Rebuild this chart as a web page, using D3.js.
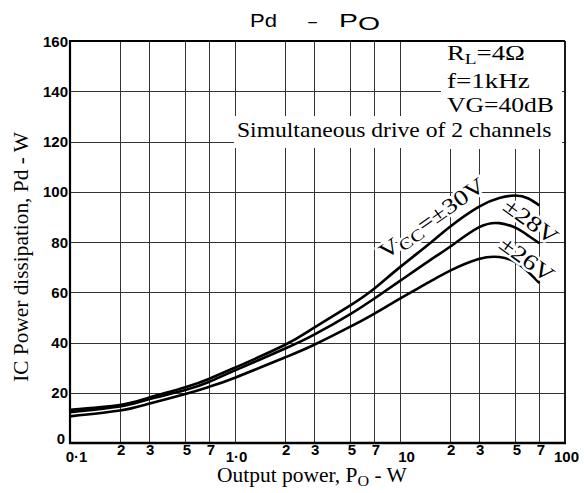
<!DOCTYPE html>
<html>
<head>
<meta charset="utf-8">
<script src="https://cdn.jsdelivr.net/npm/d3@7/dist/d3.min.js"></script>
<style>
  html, body { margin: 0; padding: 0; background: #fff; }
  svg { display: block; }
</style>
</head>
<body>
<svg id="chart" width="584" height="493"></svg>
<script>
// ---------------- data ----------------
const outputPower = [0.1, 0.2, 0.3, 0.5, 0.7, 1, 2, 3, 5, 7, 10, 15, 20, 30, 40, 50, 60, 70];
const pdVcc30 = [13.2, 15.1, 18.0, 22.2, 25.6, 30.0, 39.0, 45.8, 54.8, 61.5, 70.0, 79.2, 86.0, 94.0, 97.5, 98.5, 97.3, 94.5];
const pdVcc28 = [12.3, 14.5, 17.4, 21.1, 24.4, 28.9, 37.5, 43.0, 51.3, 57.5, 64.5, 72.5, 78.0, 85.8, 87.5, 85.7, 82.5, 79.5];
const pdVcc26 = [10.6, 12.9, 15.6, 19.5, 22.4, 26.0, 34.0, 39.0, 46.3, 51.5, 57.5, 64.0, 68.5, 73.2, 74.0, 72.0, 68.0, 63.6];
const seriesNames = ["\u00B130V", "\u00B128V", "\u00B126V"];

const yTickValues = [0, 20, 40, 60, 80, 100, 120, 140, 160];
const yTickLabels = ["0", "20", "40", "60", "80", "100", "120", "140", "160"];
const xTickValues = [0.1, 0.2, 0.3, 0.5, 0.7, 1, 2, 3, 5, 7, 10, 20, 30, 50, 70, 100];
const xTickLabels = ["0\u00B71", "2", "3", "5", "7", "1\u00B70", "2", "3", "5", "7", "10", "2", "3", "5", "7", "100"];
const xGridValues = [0.2, 0.3, 0.5, 0.7, 1, 2, 3, 5, 7, 10, 20, 30, 50, 70];
const yGridValues = [20, 40, 60, 80, 100, 120, 140];

const titleText = ["Pd", "\u2013", "P", "O"];
const conditions = ["R", "L", "=4\u03A9", "f=1kHz", "VG=40dB", "Simultaneous drive of 2 channels"];
const yAxisTitle = "IC Power dissipation, Pd - W";
const xAxisTitle = ["Output power, ", "P", "O", " - W"];

// ---------------- layout ----------------
const L = 70, R = 565, T = 41, B = 443;
const svg = d3.select("#chart");
const x = d3.scaleLog().domain([0.1, 100]).range([L, R]);
const y = d3.scaleLinear().domain([0, 160]).range([B, T]);

const SERIF = "'Liberation Serif', 'Times New Roman', serif";
const SANS = "'Liberation Sans', Arial, sans-serif";

// grid
const gx = svg.append("g").attr("transform", `translate(0,${B})`)
  .call(d3.axisBottom(x).tickValues(xGridValues).tickSize(-(B - T)).tickFormat(""));
gx.select(".domain").remove();
gx.selectAll(".tick line")
  .attr("stroke", "#333")
  .attr("stroke-width", d => (d === 1 || d === 10) ? 1.6 : 1)
  .attr("shape-rendering", "crispEdges");

const gy = svg.append("g").attr("transform", `translate(${L},0)`)
  .call(d3.axisLeft(y).tickValues(yGridValues).tickSize(-(R - L)).tickFormat(""));
gy.select(".domain").remove();
gy.selectAll(".tick line").attr("stroke", "#333").attr("stroke-width", 1)
  .attr("shape-rendering", "crispEdges");

// white boxes behind the condition text
svg.append("rect").attr("x", 441).attr("y", T + 1).attr("width", 121).attr("height", 107).attr("fill", "#fff");
svg.append("rect").attr("x", 234).attr("y", 116).attr("width", 328).attr("height", 32).attr("fill", "#fff");

// frame
svg.append("line").attr("x1", L).attr("x2", R).attr("y1", T).attr("y2", T).attr("stroke", "#000").attr("stroke-width", 1.8);
svg.append("line").attr("x1", R).attr("x2", R).attr("y1", T).attr("y2", B).attr("stroke", "#000").attr("stroke-width", 1.8);
svg.append("line").attr("x1", L).attr("x2", L).attr("y1", T - 1).attr("y2", B + 1).attr("stroke", "#000").attr("stroke-width", 2.2);
svg.append("line").attr("x1", L - 1).attr("x2", R + 1).attr("y1", B).attr("y2", B).attr("stroke", "#000").attr("stroke-width", 2.6);

// curves
const line = d3.line().x(d => x(d[0])).y(d => y(d[1])).curve(d3.curveNatural);
[pdVcc30, pdVcc28, pdVcc26].forEach(vals => {
  svg.append("path")
    .datum(outputPower.map((p, i) => [p, vals[i]]))
    .attr("d", line)
    .attr("fill", "none")
    .attr("stroke", "#000")
    .attr("stroke-width", 2.6)
    .attr("stroke-linejoin", "round");
});

// helper: text fitted to a width
function addText(parts, o) {
  const t = svg.append("text")
    .attr("text-anchor", o.anchor || "start")
    .style("font-family", o.family)
    .style("font-size", o.size + "px")
    .style("font-weight", o.weight || "normal")
    .attr("fill", "#000");
  parts.forEach(p => {
    const ts = t.append("tspan").text(p.t);
    if (p.dy) ts.attr("dy", p.dy);
    if (p.scale) ts.style("font-size", (o.size * p.scale) + "px");
  });
  if (o.dy) t.attr("y", 0).attr("dy", o.dy);
  if (o.halo) {
    t.attr("stroke", "#fff").attr("stroke-width", o.halo).attr("paint-order", "stroke")
     .attr("stroke-linejoin", "round");
  }
  let sx = 1;
  if (o.width) {
    const w = t.node().getBBox().width - (o.halo || 0);
    if (w > 0) sx = o.width / w;
  }
  t.attr("transform", `translate(${o.x},${o.y}) rotate(${o.rot || 0}) scale(${sx},1)`);
  return t;
}

// title
addText([{ t: titleText[0] }], { x: 250, y: 27, size: 19, family: SANS, width: 27 });
addText([{ t: titleText[1] }], { x: 312.5, y: 27, size: 19, family: SANS, anchor: "middle", width: 9 });
addText([{ t: titleText[2] }, { t: titleText[3], dy: 3 }], { x: 339, y: 27, size: 19, family: SANS, width: 41 });

// conditions
addText([{ t: conditions[0] }, { t: conditions[1], scale: 0.72, dy: 4 }, { t: conditions[2], dy: -4 }],
  { x: 447, y: 60, size: 20, family: SERIF, width: 78 });
addText([{ t: conditions[3] }], { x: 447, y: 88, size: 20, family: SERIF, width: 83 });
addText([{ t: conditions[4] }], { x: 447, y: 112, size: 20, family: SERIF, width: 107 });
addText([{ t: conditions[5] }], { x: 237, y: 137, size: 20, family: SERIF, width: 315 });

// curve labels
addText([{ t: "V" }, { t: "CC", scale: 0.75, dy: 4 }, { t: "=" + seriesNames[0], dy: -4 }],
  { x: 431.5, y: 218, rot: -35, anchor: "middle", dy: "0.35em", size: 22, family: SERIF, width: 118, halo: 5 });
addText([{ t: seriesNames[1] }],
  { x: 531, y: 221, rot: 36, anchor: "middle", dy: "0.35em", size: 22, family: SERIF, width: 56, halo: 5 });
addText([{ t: seriesNames[2] }],
  { x: 527, y: 259, rot: 36, anchor: "middle", dy: "0.35em", size: 22, family: SERIF, width: 56, halo: 5 });

// axis titles
addText([{ t: yAxisTitle }], { x: 28, y: 257, rot: -90, anchor: "middle", size: 20, family: SERIF, width: 250 });
addText([{ t: xAxisTitle[0] }, { t: xAxisTitle[1] }, { t: xAxisTitle[2], scale: 0.75, dy: 4 }, { t: xAxisTitle[3], dy: -4 }],
  { x: 217, y: 482, size: 20, family: SERIF, width: 190 });

// tick labels (y)
const ay = svg.append("g").attr("transform", `translate(${L},0)`)
  .call(d3.axisLeft(y).tickValues(yTickValues).tickSize(0).tickPadding(2)
    .tickFormat((d, i) => yTickLabels[i]));
ay.select(".domain").remove();
ay.selectAll(".tick text")
  .style("font-family", SANS).style("font-size", "15px").style("font-weight", "bold")
  .attr("fill", "#000")
  .attr("dx", d => d === 0 ? -3 : 0)
  .attr("dy", d => d === 0 ? "-0.0em" : "0.34em");

// tick labels (x)
const ax = svg.append("g").attr("transform", `translate(0,${B})`)
  .call(d3.axisBottom(x).tickValues(xTickValues).tickSize(0)
    .tickFormat((d, i) => xTickLabels[i]));
ax.select(".domain").remove();
ax.selectAll(".tick text")
  .style("font-family", SANS).style("font-size", "15px").style("font-weight", "bold")
  .attr("fill", "#000")
  .attr("y", d => {
    const lg = Math.log10(d);
    return Math.abs(lg - Math.round(lg)) < 1e-9 ? 19 : 12;
  })
  .attr("dy", 0)
  .attr("dx", d => (d === 0.1 || d === 10) ? 6 : 1);
</script>
</body>
</html>
